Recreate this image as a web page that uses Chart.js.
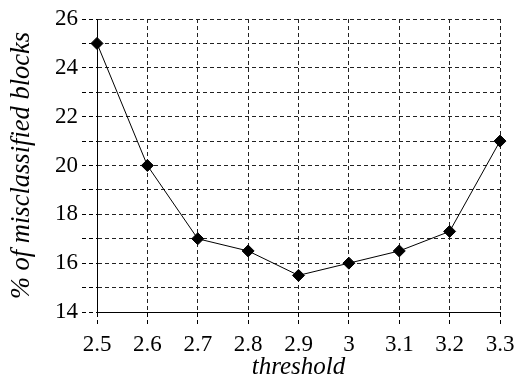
<!DOCTYPE html>
<html>
<head>
<meta charset="utf-8">
<script src="https://cdn.jsdelivr.net/npm/chart.js@4.4.0/dist/chart.umd.min.js"></script>
<style>
  html, body { margin: 0; padding: 0; background: #fff; }
  #wrap { width: 515px; height: 380px; }
</style>
</head>
<body>
<div id="wrap"><canvas id="chart"></canvas></div>
<script>
// данные с картинки
var thresholds = [2.5, 2.6, 2.7, 2.8, 2.9, 3.0, 3.1, 3.2, 3.3];
var misclassified = [25, 20, 17, 16.5, 15.5, 16, 16.5, 17.3, 21];
var xTitle = 'threshold';
var yTitle = '% of misclassified blocks';

var points = [];
for (var i = 0; i < thresholds.length; i++) {
    points.push({ x: thresholds[i], y: misclassified[i] });
}

var serif = "'Liberation Serif', 'Times New Roman', serif";
Chart.defaults.font.family = serif;

var ctx = document.getElementById('chart');
var myChart = new Chart(ctx, {
    type: 'line',
    data: {
        datasets: [{
            data: points,
            borderColor: '#000',
            borderWidth: 1,
            backgroundColor: '#000',
            pointStyle: 'rectRot',
            pointRadius: 6,
            pointBackgroundColor: '#000',
            tension: 0,
            clip: false //чтобы крайние маркеры не обрезались
        }]
    },
    options: {
        responsive: true,
        maintainAspectRatio: false,
        animation: false,
        layout: { padding: { left: 0, right: 15, top: 19, bottom: 0 } },
        plugins: {
            legend: { display: false },
            tooltip: { enabled: false }
        },
        scales: {
            x: {
                type: 'linear',
                min: 2.5,
                max: 3.3,
                border: { display: true, color: '#000', width: 1, dash: [4, 3] },
                grid: { color: '#222', tickLength: 14, tickColor: '#000', tickBorderDash: [4, 3] },
                ticks: {
                    stepSize: 0.1,
                    color: '#000',
                    padding: 5,
                    maxRotation: 0,
                    font: { family: serif, size: 23 },
                    callback: function(v) { return String(+v.toFixed(1)); }
                },
                title: {
                    display: true,
                    text: xTitle,
                    color: '#000',
                    padding: 0,
                    font: { family: serif, size: 25, style: 'italic', lineHeight: 1 }
                },
                afterFit: function(scale) {
                    scale.height = 68;
                    scale.paddingLeft = 0;
                    scale.paddingRight = 0;
                }
            },
            y: {
                min: 14,
                max: 26,
                border: { display: true, color: '#000', width: 1, dash: [4, 3] },
                grid: { color: '#222', tickLength: 15, tickColor: '#000', tickBorderDash: [4, 3] },
                ticks: {
                    stepSize: 1,
                    color: '#000',
                    padding: 4,
                    autoSkip: false,
                    font: { family: serif, size: 23 },
                    callback: function(v) { return (v % 2 === 0) ? String(v) : ''; }
                },
                title: {
                    display: true,
                    text: yTitle,
                    color: '#000',
                    padding: { top: 9, bottom: 0 },
                    font: { family: serif, size: 26.5, style: 'italic', lineHeight: 1 }
                },
                afterFit: function(scale) { scale.width = 97; }
            }
        }
    }
});
</script>
</body>
</html>
